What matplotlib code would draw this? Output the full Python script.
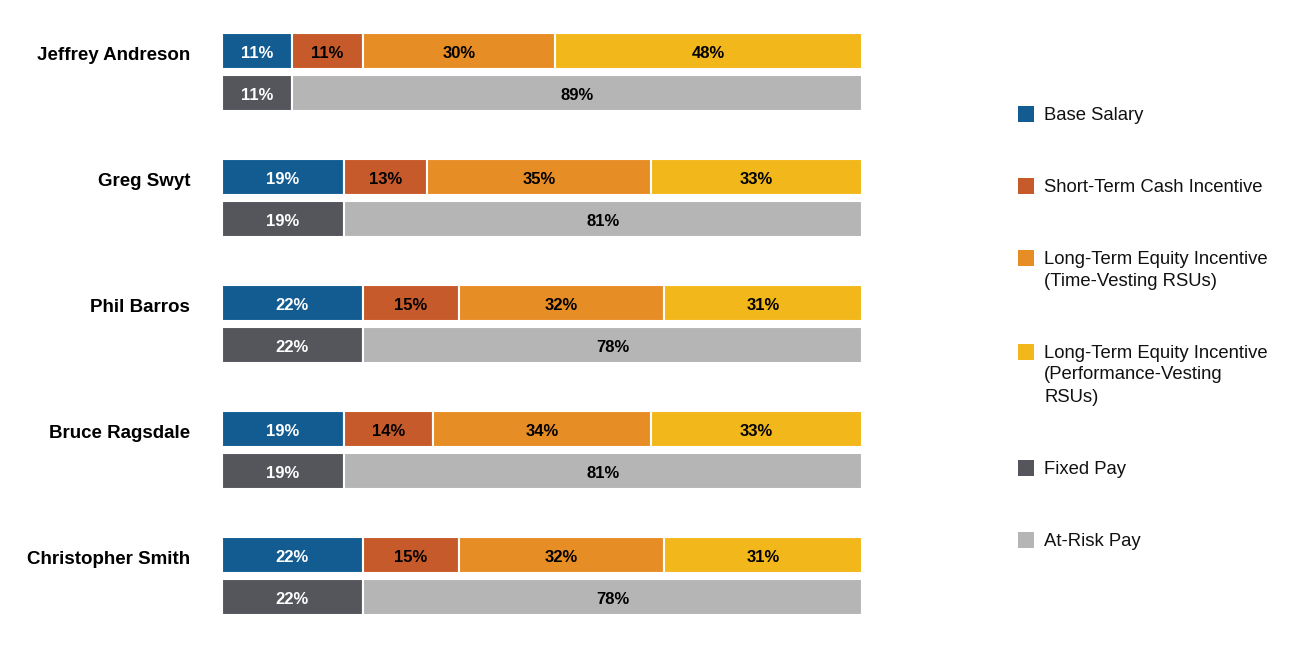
import matplotlib
matplotlib.use("Agg")
import matplotlib.pyplot as plt
from matplotlib.patches import Rectangle

plt.rcParams['font.family'] = ['Liberation Sans', 'DejaVu Sans']

names = ["Jeffrey Andreson", "Greg Swyt", "Phil Barros", "Bruce Ragsdale", "Christopher Smith"]
base_salary = [11, 19, 22, 19, 22]
short_term = [11, 13, 15, 14, 15]
lt_time = [30, 35, 32, 34, 32]
lt_perf = [48, 33, 31, 33, 31]
fixed_pay = [11, 19, 22, 19, 22]
at_risk_pay = [89, 81, 78, 81, 78]

legend_labels = ["Base Salary", "Short-Term Cash Incentive",
                 "Long-Term Equity Incentive\n(Time-Vesting RSUs)",
                 "Long-Term Equity Incentive\n(Performance-Vesting\nRSUs)",
                 "Fixed Pay", "At-Risk Pay"]
colors = ["#135C92", "#C75A2B", "#E78D25", "#F2B81B", "#54565B", "#B5B5B5"]
text_colors = ["white", "black", "black", "black", "white", "black"]

W, H = 1300, 650
fig = plt.figure(figsize=(13, 6.5), dpi=100)
ax = fig.add_axes([222 / W, 0, 640 / W, 1])
ax.set_xlim(0, 100)
ax.set_ylim(H, 0)
ax.axis('off')

bar_h = 36
group_gap = 126
top0 = 50.5
sub_gap = 42

top_series = [base_salary, short_term, lt_time, lt_perf]
bottom_series = [fixed_pay, at_risk_pay]

for i, name in enumerate(names):
    yt = top0 + group_gap * i
    yb = yt + sub_gap
    left = 0
    for k, s in enumerate(top_series):
        v = s[i]
        ax.barh(yt, v, left=left, height=bar_h, color=colors[k], edgecolor='white', linewidth=1.5)
        ax.text(left + v / 2, yt + 2.5, f"{v}%", ha='center', va='center', fontsize=12,
                fontweight='bold', color=text_colors[k])
        left += v
    left = 0
    for k, s in enumerate(bottom_series):
        v = s[i]
        ax.barh(yb, v, left=left, height=bar_h, color=colors[4 + k], edgecolor='white', linewidth=1.5)
        ax.text(left + v / 2, yb + 2.5, f"{v}%", ha='center', va='center', fontsize=12,
                fontweight='bold', color=text_colors[4 + k])
        left += v
    fig.text(190 / W, 1 - (yt + 4.5) / H, name, ha='right', va='center', fontsize=13.5,
             fontweight='bold', color='black')

# legend
y = 115
line_h = 22
item_gap = 72
for j, lab in enumerate(legend_labels):
    fig.patches.append(Rectangle((1018 / W, 1 - (y + 7) / H), 16 / W, 16 / H,
                                 transform=fig.transFigure, facecolor=colors[j],
                                 edgecolor='none'))
    lines = lab.split("\n")
    for n, ln in enumerate(lines):
        fig.text(1044 / W, 1 - (y + n * line_h) / H, ln, ha='left', va='center',
                 fontsize=13.3, color='#111111')
    y += (len(lines) - 1) * line_h + item_gap

fig.savefig("out.png", dpi=100, facecolor='white')
